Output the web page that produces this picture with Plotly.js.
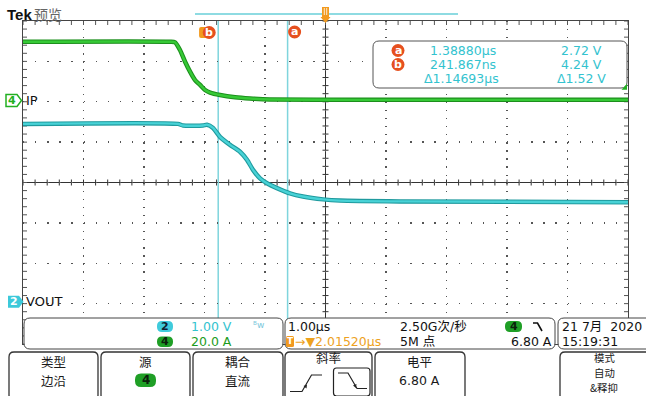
<!DOCTYPE html>
<html><head><meta charset="utf-8">
<script src="https://cdn.plot.ly/plotly-3.0.1.min.js"></script>
<style>html,body{margin:0;padding:0;background:#fff;overflow:hidden}#c{width:646px;height:396px}</style>
</head><body><div id="c"></div>
<script>
// Channel 4 (IP), current in A vs time in µs
const ipTime = [-2.985, -0.555, -0.472, -0.39, -0.306, -0.224, -0.141, -0.058, 0.025, 0.108, 0.273, 0.521, 0.767, 1.098, 2.5, 7.015];
const ipAmps = [29.1, 29.1, 28.8, 25.0, 19.2, 14.3, 10.1, 7.7, 5.2, 3.9, 2.7, 1.6, 1.0, 0.5, 0.3, 0.3];
// Channel 2 (VOUT), voltage in V vs time in µs
const voutTime = [-2.985, -0.423, -0.34, -0.01, 0.057, 0.156, 0.271, 0.437, 0.602, 0.718, 0.817, 0.933, 1.048, 1.213, 1.428, 1.643, 1.974, 2.255, 3.247, 7.015];
const voutVolts = [4.40, 4.40, 4.36, 4.36, 4.38, 4.30, 4.08, 3.88, 3.71, 3.51, 3.26, 3.05, 2.93, 2.81, 2.68, 2.60, 2.53, 2.50, 2.48, 2.46];
// Cursors
const cursorNames = ['a', 'b'];
const cursorTimes = [1.38880, 0.241867];           // µs
const cursorTimeText = ['1.38880µs', '241.867ns'];
const cursorVoltText = ['2.72 V', '4.24 V'];
const deltaText = ['Δ1.14693µs', 'Δ1.52 V'];
// Scope settings
const channelNames = ['VOUT', 'IP'];
const channelScaleText = ['1.00 V', '20.0 A'];
const voltsPerDiv = 1.0, ampsPerDiv = 20.0, usPerDiv = 1.0;
const horizPos = 2.01520;                           // µs at screen centre
const ch2OffsetDiv = -2.948, ch4OffsetDiv = 2.032;  // ground markers
const timebaseText = '1.00µs', horizPosText = '→▼2.01520µs';
const sampleRateText = '2.50G次/秒', recordText = '5M 点';
const trigLevelText = '6.80 A', trigLevelAmps = 6.80;
const dateText = '21 7月  2020', timeText = '15:19:31';
const buttonLabels = [['类型','边沿'], ['源'], ['耦合','直流'], ['斜率'], ['电平','6.80 A'], ['模式','自动','&释抑']];

// ---------------- geometry helpers ----------------
const W = 646, H = 396, L = 23, T = 21, PW = 605, PH = 323.2;
const xmin = horizPos - 5 * usPerDiv, xmax = horizPos + 5 * usPerDiv;
const fx = px => (px - L) / PW;
const fy = py => (T + PH - py) / PH;
const tpx = t => L + (t - xmin) / (xmax - xmin) * PW;
const P = (x, y) => (x - L).toFixed(2) + ',' + (T - y).toFixed(2);
function pathShape(path, o) {
  return Object.assign({type: 'path', xref: 'paper', yref: 'paper', xsizemode: 'pixel', ysizemode: 'pixel',
    xanchor: 0, yanchor: 1, path: path, layer: 'above', line: {width: 0}}, o || {});
}
function rr(x0, y0, x1, y1, r) {
  return `M${P(x0 + r, y0)} L${P(x1 - r, y0)} Q${P(x1, y0)} ${P(x1, y0 + r)} L${P(x1, y1 - r)} Q${P(x1, y1)} ${P(x1 - r, y1)} L${P(x0 + r, y1)} Q${P(x0, y1)} ${P(x0, y1 - r)} L${P(x0, y0 + r)} Q${P(x0, y0)} ${P(x0 + r, y0)} Z`;
}
function circ(cx, cy, r, color) {
  return {type: 'circle', xref: 'paper', yref: 'paper', xsizemode: 'pixel', ysizemode: 'pixel',
    xanchor: fx(cx), yanchor: fy(cy), x0: -r, x1: r, y0: -r, y1: r, fillcolor: color, line: {width: 0}, layer: 'above'};
}
const FL = '"DejaVu Sans", "Noto Sans CJK SC", sans-serif';
const FC = '"Noto Sans CJK SC", "DejaVu Sans", sans-serif';
function txt(x, y, text, size, color, anchor, family) {
  return {xref: 'paper', yref: 'paper', x: fx(x), y: fy(y), text: text, showarrow: false,
    xanchor: anchor || 'left', yanchor: 'middle', borderpad: 0, align: 'center',
    font: {family: family || FL, size: size, color: color}};
}

const GREEN = '#22b022', CYAN = '#33c3cf', ORANGE = '#f29a1f', RED = '#e6501f', CURSOR = '#7fd5dd';
const shapes = [], ann = [];

// centre lines
const yC = -ch2OffsetDiv * voltsPerDiv; // VOUT value at centre
shapes.push({type: 'line', xref: 'paper', yref: 'paper', x0: 0, x1: 1, y0: 0.5, y1: 0.5, line: {color: '#333', width: 1}, layer: 'between'});
shapes.push({type: 'line', xref: 'paper', yref: 'paper', x0: 0.5, x1: 0.5, y0: 0, y1: 1, line: {color: '#333', width: 1}, layer: 'between'});
// minor ticks on centre lines and borders
for (let k = -25; k <= 25; k++) {
  const t = horizPos + k * 0.2 * usPerDiv;
  shapes.push({type: 'line', xref: 'x', yref: 'paper', ysizemode: 'pixel', yanchor: 0.5, x0: t, x1: t, y0: -3, y1: 3, line: {color: '#333', width: 1}, layer: 'between'});
  shapes.push({type: 'line', xref: 'x', yref: 'paper', ysizemode: 'pixel', yanchor: 1, x0: t, x1: t, y0: 0, y1: -4, line: {color: '#555', width: 1}, layer: 'between'});
}
for (let k = -20; k <= 20; k++) {
  const v = yC + k * 0.2 * voltsPerDiv;
  shapes.push({type: 'line', xref: 'paper', yref: 'y', xsizemode: 'pixel', xanchor: 0.5, y0: v, y1: v, x0: -3, x1: 3, line: {color: '#333', width: 1}, layer: 'between'});
  shapes.push({type: 'line', xref: 'paper', yref: 'y', xsizemode: 'pixel', xanchor: 0, y0: v, y1: v, x0: 0, x1: 4, line: {color: '#555', width: 1}, layer: 'between'});
  shapes.push({type: 'line', xref: 'paper', yref: 'y', xsizemode: 'pixel', xanchor: 1, y0: v, y1: v, x0: 0, x1: -4, line: {color: '#555', width: 1}, layer: 'between'});
}
// cursors
cursorTimes.forEach(t => shapes.push({type: 'line', xref: 'x', yref: 'paper', x0: t, x1: t, y0: 0, y1: 1, line: {color: CURSOR, width: 1.5}, layer: 'between'}));

// top bar
shapes.push(pathShape(`M${P(195, 14)} L${P(458, 14)}`, {line: {color: '#8edbe2', width: 2}}));
const cx0 = L + PW / 2;
shapes.push(pathShape(`M${P(cx0 - 3.5, 7)} L${P(cx0 + 3.5, 7)} L${P(cx0 + 3.5, 17)} L${P(cx0 + 5, 17)} L${P(cx0, 23)} L${P(cx0 - 5, 17)} L${P(cx0 - 3.5, 17)} Z`, {fillcolor: ORANGE}));
shapes.push(pathShape(`M${P(cx0 - 1.2, 8)} L${P(cx0 - 1.2, 15)} M${P(cx0 + 1.2, 8)} L${P(cx0 + 1.2, 15)}`, {line: {color: '#fff', width: 0.8}}));
ann.push(txt(6, 14, '<b>Tek</b>', 15, '#111', 'left', '"Liberation Sans", Arial, sans-serif'));
ann.push(txt(33, 14, '预览', 14, '#666', 'left', FC));

// trigger marker T and cursor labels
const trigX = tpx(0);
shapes.push(pathShape(rr(trigX - 4.5, 27, trigX + 4, 38, 2), {fillcolor: ORANGE}));
const bX = tpx(cursorTimes[1]) - 9, aX = tpx(cursorTimes[0]) + 7;
shapes.push(circ(bX, 32.5, 6.5, RED));
ann.push(txt(bX, 32.5, '<b>b</b>', 11, '#fff', 'center'));
shapes.push(circ(aX, 32, 6.5, RED));
ann.push(txt(aX, 32, '<b>a</b>', 11, '#fff', 'center'));

// readout box
shapes.push(pathShape(rr(373, 41, 627, 88, 6), {fillcolor: '#fff', line: {color: '#555', width: 1}}));
[50.5, 64.5].forEach((y, i) => {
  shapes.push(circ(398, y, 6.5, RED));
  ann.push(txt(398, y, '<b>' + cursorNames[i] + '</b>', 11, '#fff', 'center'));
  ann.push(txt(429, y, cursorTimeText[i], 12.5, CYAN, 'left'));
  ann.push(txt(603, y, cursorVoltText[i], 12.5, CYAN, 'right'));
});
ann.push(txt(423, 79, deltaText[0], 12.5, CYAN, 'left'));
ann.push(txt(607, 79, deltaText[1], 12.5, CYAN, 'right'));

// trigger level marker (right edge)
const trigY = T + PH / 2 - (trigLevelAmps / ampsPerDiv + ch4OffsetDiv) * PH / 8;
shapes.push(pathShape(`M${P(627, trigY - 3)} L${P(627, trigY + 3)} L${P(621.5, trigY + 3)} Z`, {fillcolor: GREEN}));

// channel ground markers
const g4 = T + PH / 2 - ch4OffsetDiv * PH / 8, g2 = T + PH / 2 - ch2OffsetDiv * PH / 8;
shapes.push(pathShape(`M${P(6, g4 - 6)} L${P(17, g4 - 6)} L${P(21.5, g4)} L${P(17, g4 + 6)} L${P(6, g4 + 6)} Z`, {fillcolor: '#fff', line: {color: GREEN, width: 1.5}}));
ann.push(txt(12, g4, '<b>4</b>', 11, GREEN, 'center'));
ann.push(txt(25, g4, channelNames[1], 13, '#111', 'left'));
shapes.push(pathShape(`M${P(8, g2 - 6)} L${P(19, g2 - 6)} L${P(23.5, g2)} L${P(19, g2 + 6)} L${P(8, g2 + 6)} Z`, {fillcolor: '#3cc9da'}));
ann.push(txt(14, g2, '<b>2</b>', 11, '#fff', 'center'));
ann.push(txt(25, g2, channelNames[0], 13, '#111', 'left'));

// bottom info boxes
const ibox = {fillcolor: '#fff', line: {color: '#444', width: 1}};
shapes.push(pathShape(rr(24, 318, 283, 349, 6), ibox));
shapes.push(pathShape(rr(285, 318, 555, 349, 6), ibox));
shapes.push(pathShape(rr(558, 318, 660, 349, 6), ibox));
shapes.push(pathShape(rr(157, 321, 173, 332, 5), {fillcolor: '#3fcbdc'}));
ann.push(txt(165, 326.5, '<b>2</b>', 11, '#123', 'center'));
ann.push(txt(190, 326.5, channelScaleText[0], 12.5, CYAN, 'left'));
ann.push(txt(252, 325, 'ᴮw', 9, '#7cc8dc', 'left'));
shapes.push(pathShape(rr(157, 336.5, 173, 347, 5), {fillcolor: '#1f9f26'}));
ann.push(txt(165, 341.8, '<b>4</b>', 11, '#0c200c', 'center'));
ann.push(txt(190, 342, channelScaleText[1], 12.5, '#1c9c1c', 'left'));

ann.push(txt(287, 326.5, timebaseText, 12.5, '#111', 'left'));
ann.push(txt(399, 326.5, sampleRateText, 12.5, '#111', 'left'));
shapes.push(pathShape(rr(505, 321, 522, 332, 5), {fillcolor: '#1f9f26'}));
ann.push(txt(513.5, 326.5, '<b>4</b>', 11, '#0c200c', 'center'));
shapes.push(pathShape(`M${P(533, 323)} L${P(537.5, 323)} L${P(542, 331)}`, {line: {color: '#111', width: 1.6}}));
shapes.push(pathShape(rr(286, 336, 294, 347, 1.5), {fillcolor: ORANGE}));
ann.push(txt(290, 341.5, '<b>T</b>', 9, '#fff', 'center'));
ann.push(txt(294, 342, horizPosText, 12.5, '#eda21e', 'left'));
ann.push(txt(399, 342, recordText, 12.5, '#111', 'left'));
ann.push(txt(553, 342, trigLevelText, 12.5, '#111', 'right'));
ann.push(txt(561, 326.5, dateText, 12.5, '#111', 'left'));
ann.push(txt(561, 342, timeText, 12.5, '#111', 'left'));

// soft-key buttons
const btnX = [[9, 98], [101, 190], [193, 283], [285, 372], [375, 465], [560, 660]];
btnX.forEach(b => shapes.push(pathShape(rr(b[0], 352, b[1], 400, 5), {fillcolor: '#fff', line: {color: '#333', width: 1.3}})));
const bc = i => (btnX[i][0] + btnX[i][1]) / 2;
ann.push(txt(bc(0), 362, buttonLabels[0][0], 12.5, '#1a1a1a', 'center', FC));
ann.push(txt(bc(0), 380.5, buttonLabels[0][1], 12.5, '#1a1a1a', 'center', FC));
ann.push(txt(bc(1), 362, buttonLabels[1][0], 12.5, '#1a1a1a', 'center', FC));
shapes.push(pathShape(rr(bc(1) - 10.5, 373.5, bc(1) + 10.5, 387, 6), {fillcolor: '#1f9f26'}));
ann.push(txt(bc(1), 380.5, '<b>4</b>', 12, '#0c200c', 'center'));
ann.push(txt(bc(2), 362, buttonLabels[2][0], 12.5, '#1a1a1a', 'center', FC));
ann.push(txt(bc(2), 380.5, buttonLabels[2][1], 12.5, '#1a1a1a', 'center', FC));
ann.push(txt(328, 358, buttonLabels[3][0], 12.5, '#1a1a1a', 'center', FC));
shapes.push(pathShape(`M${P(290, 391.5)} L${P(302, 391.5)} L${P(311.5, 375)} L${P(322, 375)}`, {line: {color: '#222', width: 1.2}}));
shapes.push(pathShape(`M${P(303.5, 386)} L${P(307, 384.5)} L${P(306.5, 388.5)} Z`, {fillcolor: '#222'}));
shapes.push(pathShape(rr(333.5, 368, 370, 396, 3), {fillcolor: '#fff', line: {color: '#222', width: 1.2}}));
shapes.push(pathShape(`M${P(338, 373)} L${P(348, 373)} L${P(357, 388.5)} L${P(367, 388.5)}`, {line: {color: '#222', width: 1.2}}));
shapes.push(pathShape(`M${P(353, 385.5)} L${P(356.5, 384)} L${P(356, 388)} Z`, {fillcolor: '#222'}));
ann.push(txt(bc(4), 362, buttonLabels[4][0], 12.5, '#1a1a1a', 'center', FC));
ann.push(txt(bc(4), 380.5, buttonLabels[4][1], 12.5, '#1a1a1a', 'center'));
ann.push(txt(604, 357.5, buttonLabels[5][0], 10.4, '#1a1a1a', 'center', FC));
ann.push(txt(604, 372.7, buttonLabels[5][1], 10.4, '#1a1a1a', 'center', FC));
ann.push(txt(604, 387.9, buttonLabels[5][2], 10.4, '#1a1a1a', 'center', FC));

// ---------------- traces ----------------
const traces = [
  {x: ipTime, y: ipAmps, yaxis: 'y2', mode: 'lines', line: {color: '#1c8f1c', width: 4.5, shape: 'spline', smoothing: 0.6}, hoverinfo: 'skip'},
  {x: ipTime, y: ipAmps, yaxis: 'y2', mode: 'lines', line: {color: '#36c936', width: 2.4, shape: 'spline', smoothing: 0.6}, hoverinfo: 'skip'},
  {x: voutTime, y: voutVolts, yaxis: 'y', mode: 'lines', line: {color: '#1f9a9e', width: 4.5, shape: 'spline', smoothing: 0.6}, hoverinfo: 'skip'},
  {x: voutTime, y: voutVolts, yaxis: 'y', mode: 'lines', line: {color: '#48d2d6', width: 2.4, shape: 'spline', smoothing: 0.6}, hoverinfo: 'skip'}
];

const layout = {
  width: W, height: H, showlegend: false,
  margin: {l: L, r: W - L - PW, t: T, b: H - T - PH, pad: 0},
  paper_bgcolor: '#fff', plot_bgcolor: '#fff',
  xaxis: {range: [xmin, xmax], tick0: horizPos, dtick: usPerDiv, showgrid: true, gridcolor: '#555', griddash: '1.3px,6.78px', gridwidth: 1.3,
    zeroline: false, showticklabels: false, ticks: '', showline: true, mirror: true, linecolor: '#444', linewidth: 1.3, fixedrange: true},
  yaxis: {range: [(-4 - ch2OffsetDiv) * voltsPerDiv, (4 - ch2OffsetDiv) * voltsPerDiv], tick0: yC, dtick: voltsPerDiv, showgrid: true,
    gridcolor: '#555', griddash: '1.3px,10.8px', gridwidth: 1.3, zeroline: false, showticklabels: false, ticks: '',
    showline: true, mirror: true, linecolor: '#444', linewidth: 1.3, fixedrange: true},
  yaxis2: {range: [(-4 - ch4OffsetDiv) * ampsPerDiv, (4 - ch4OffsetDiv) * ampsPerDiv], overlaying: 'y', showgrid: false, zeroline: false,
    showticklabels: false, ticks: '', showline: false, fixedrange: true},
  shapes: shapes, annotations: ann
};
Plotly.newPlot('c', traces, layout, {staticPlot: true, displayModeBar: false});
</script></body></html>
